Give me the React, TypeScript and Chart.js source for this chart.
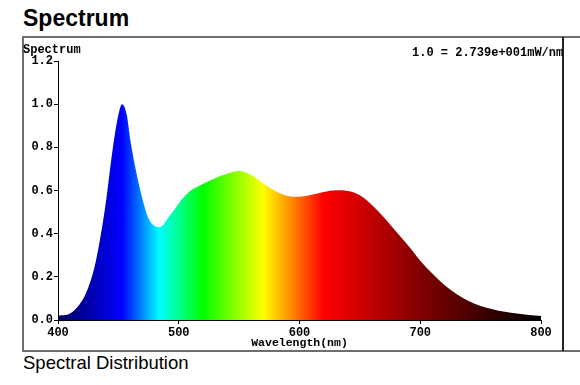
import React, { useEffect, useRef } from "react";
import { Chart, registerables } from "chart.js";

Chart.register(...registerables);

const wavelengths = [
  400, 410, 420, 425, 430, 435, 440, 445, 450, 453, 457, 460, 465, 470, 475, 480, 483, 487, 490, 495,
  500, 505, 510, 520, 530, 540, 550, 560, 570, 580, 590, 600, 610, 620, 630, 640, 650, 660, 670,
  680, 690, 700, 710, 720, 730, 740, 750, 760, 770, 780, 790, 800,
];
const intensities = [
  0.02, 0.03, 0.09, 0.15, 0.24, 0.38, 0.56, 0.78, 0.95, 1.0, 0.95, 0.83, 0.68, 0.56, 0.47, 0.435, 0.43, 0.44, 0.465, 0.5,
  0.54, 0.575, 0.6, 0.63, 0.657, 0.678, 0.69, 0.672, 0.633, 0.598, 0.575, 0.571, 0.58, 0.593, 0.601, 0.598, 0.578, 0.533, 0.475,
  0.41, 0.345, 0.275, 0.215, 0.162, 0.12, 0.088, 0.065, 0.05, 0.038, 0.03, 0.023, 0.018,
];
const colorStopWavelengths = [400, 453, 484, 520, 570, 620, 700, 800];
const colorStopColors = ["#00005c", "#0000ff", "#00ffff", "#00ff00", "#ffff00", "#ff0000", "#800000", "#000000"];
const xTicks = [400, 500, 600, 700, 800];
const yTicks = [0, 0.2, 0.4, 0.6, 0.8, 1.0, 1.2];

const chartTitle = "Spectrum";
const yLabel = "Spectrum";
const scaleNote = "1.0 = 2.739e+001mW/nm";
const xLabel = "Wavelength(nm)";
const caption = "Spectral Distribution";

const mono = "'Courier New', 'Liberation Mono', monospace";
const sans = "Arial, 'Liberation Sans', sans-serif";

export default function App() {
  const canvasRef = useRef<HTMLCanvasElement>(null);

  useEffect(() => {
    if (!canvasRef.current) return;
    const tickFont = { family: mono, size: 12, weight: "bold" as const };
    const chart = new Chart(canvasRef.current, {
      type: "line",
      data: {
        datasets: [
          {
            data: wavelengths.map((w, i) => ({ x: w, y: intensities[i] })),
            fill: "origin",
            borderWidth: 0,
            pointRadius: 0,
            cubicInterpolationMode: "monotone",
            backgroundColor: (ctx: any) => {
              const c = ctx.chart;
              if (!c.chartArea) return "#0000ff";
              const sx = c.scales.x;
              const x0 = sx.getPixelForValue(400);
              const x1 = sx.getPixelForValue(800);
              const g = c.ctx.createLinearGradient(x0, 0, x1, 0);
              colorStopWavelengths.forEach((w, i) => {
                g.addColorStop((w - 400) / 400, colorStopColors[i]);
              });
              return g;
            },
          },
        ],
      },
      options: {
        responsive: false,
        animation: false,
        layout: { padding: { top: 23, right: 22, left: 0, bottom: 0 } },
        plugins: { legend: { display: false }, tooltip: { enabled: false }, title: { display: false } },
        scales: {
          x: {
            type: "linear",
            min: 400,
            max: 800,
            afterBuildTicks: (s: any) => {
              s.ticks = xTicks.map((v) => ({ value: v }));
            },
            afterFit: (s: any) => {
              s.height = 30;
            },
            ticks: { font: tickFont, color: "#000", padding: 2, maxRotation: 0 },
            grid: { display: true, drawOnChartArea: false, drawTicks: true, tickLength: 4, color: "#000" },
            border: { display: true, color: "#000", width: 1 },
            title: {
              display: true,
              text: xLabel,
              font: { family: mono, size: 11.5, weight: "bold" },
              color: "#000",
              padding: { top: 0, bottom: 0 },
            },
          },
          y: {
            type: "linear",
            min: 0,
            max: 1.2,
            afterBuildTicks: (s: any) => {
              s.ticks = yTicks.map((v) => ({ value: v }));
            },
            afterFit: (s: any) => {
              s.width = 34;
            },
            ticks: { font: tickFont, color: "#000", padding: 1, callback: (v: any) => Number(v).toFixed(1) },
            grid: { display: true, drawOnChartArea: false, drawTicks: true, tickLength: 4, color: "#000" },
            border: { display: true, color: "#000", width: 1 },
          },
        },
      },
    } as any);
    return () => chart.destroy();
  }, []);

  return (
    <div
      style={{
        position: "absolute",
        left: 0,
        top: 0,
        width: 580,
        height: 385,
        overflow: "hidden",
        background: "#fff",
      }}
    >
      <div
        style={{
          position: "absolute",
          left: 23,
          top: 7,
          fontFamily: sans,
          fontWeight: "bold",
          fontSize: 23,
          lineHeight: "23px",
          whiteSpace: "nowrap",
          color: "#000",
        }}
      >
        {chartTitle}
      </div>
      <div
        style={{
          position: "absolute",
          left: 22,
          top: 36,
          width: 600,
          height: 312,
          border: "2px solid #6e6e6e",
        }}
      />
      <canvas
        ref={canvasRef}
        width={539}
        height={312}
        style={{ position: "absolute", left: 24, top: 38, width: 539, height: 312 }}
      />
      <div style={{ position: "absolute", left: 562, top: 37, width: 2, height: 314, background: "#222" }} />
      <div
        style={{
          position: "absolute",
          left: 23,
          top: 44,
          fontFamily: mono,
          fontWeight: "bold",
          fontSize: 12,
          lineHeight: "12px",
          whiteSpace: "nowrap",
          color: "#000",
        }}
      >
        {yLabel}
      </div>
      <div
        style={{
          position: "absolute",
          left: 412,
          top: 47,
          fontFamily: mono,
          fontWeight: "bold",
          fontSize: 12,
          lineHeight: "12px",
          whiteSpace: "nowrap",
          color: "#000",
        }}
      >
        {scaleNote}
      </div>
      <div
        style={{
          position: "absolute",
          left: 23,
          top: 353.5,
          fontFamily: sans,
          fontSize: 18.5,
          lineHeight: "18.5px",
          whiteSpace: "nowrap",
          color: "#000",
        }}
      >
        {caption}
      </div>
    </div>
  );
}
